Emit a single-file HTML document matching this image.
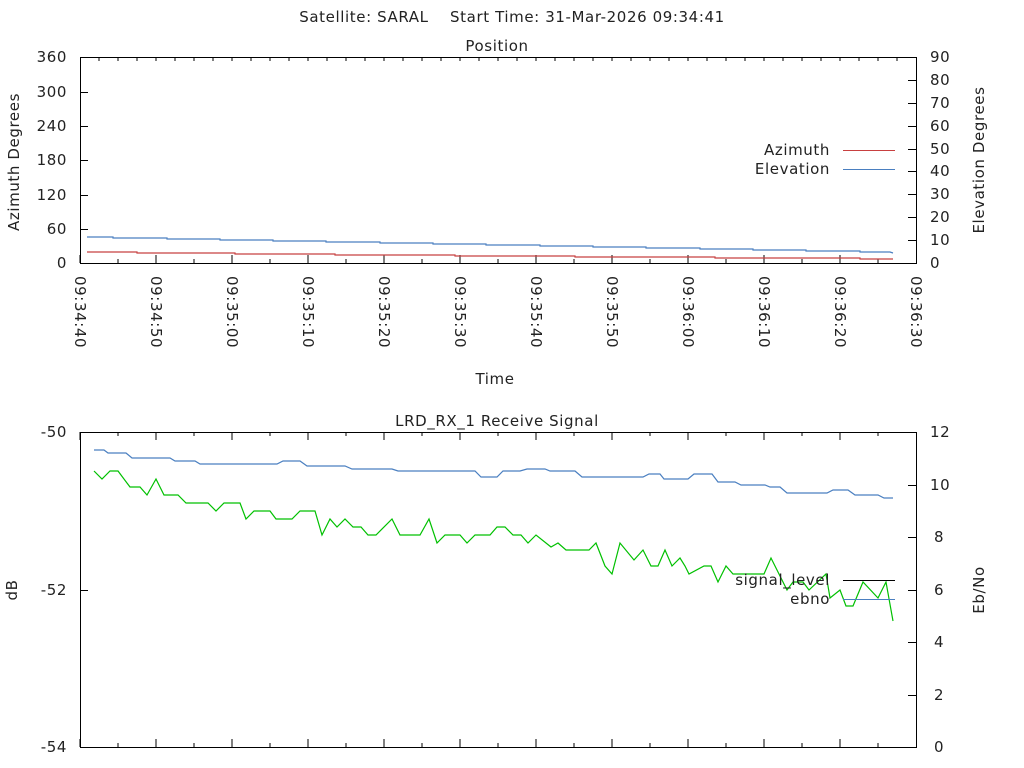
<!DOCTYPE html>
<html><head><meta charset="utf-8"><style>body{margin:0;background:#fff}svg{display:block}text{font-family:"DejaVu Sans","Liberation Sans",sans-serif;font-size:15px;letter-spacing:0.6px;fill:#222}</style></head>
<body>
<svg width="1024" height="768" xmlns="http://www.w3.org/2000/svg">
<text x="512" y="22" text-anchor="middle" xml:space="preserve">Satellite: SARAL    Start Time: 31-Mar-2026 09:34:41</text>
<text x="497" y="51" text-anchor="middle">Position</text>
<rect x="80.5" y="57.5" width="836" height="206" fill="none" stroke="#000"/>
<g stroke="#000">
<path d="M80 263v-8M156 263v-8M232 263v-8M308 263v-8M384 263v-8M460 263v-8M536 263v-8M612 263v-8M688 263v-8M764 263v-8M840 263v-8"/>
<path d="M118 263v-4M194 263v-4M270 263v-4M346 263v-4M422 263v-4M498 263v-4M574 263v-4M650 263v-4M726 263v-4M802 263v-4M878 263v-4"/>
<path d="M99 57v4M118 57v4M137 57v4M156 57v4M175 57v4M194 57v4M213 57v4M232 57v4M251 57v4M270 57v4M289 57v4M308 57v4M327 57v4M346 57v4M365 57v4M384 57v4M403 57v4M422 57v4M441 57v4M460 57v4M479 57v4M498 57v4M517 57v4M536 57v4M555 57v4M574 57v4M593 57v4M612 57v4M631 57v4M650 57v4M669 57v4M688 57v4M707 57v4M726 57v4M745 57v4M764 57v4M783 57v4M802 57v4M821 57v4M840 57v4M859 57v4M878 57v4M897 57v4"/>
<path d="M80 229.5h8M80 195.5h8M80 160.5h8M80 126.5h8M80 92.5h8M916 240.5h-8M916 217.5h-8M916 194.5h-8M916 171.5h-8M916 149.5h-8M916 126.5h-8M916 103.5h-8M916 80.5h-8"/>
</g>
<g text-anchor="end">
<text x="67" y="268">0</text><text x="67" y="234">60</text><text x="67" y="200">120</text><text x="67" y="165">180</text><text x="67" y="131">240</text><text x="67" y="97">300</text><text x="67" y="62">360</text>
</g>
<g>
<text x="930" y="268">0</text><text x="930" y="245">10</text><text x="930" y="222">20</text><text x="930" y="199">30</text><text x="930" y="176">40</text><text x="930" y="154">50</text><text x="930" y="131">60</text><text x="930" y="108">70</text><text x="930" y="85">80</text><text x="930" y="62">90</text>
</g>
<text transform="translate(19,162) rotate(-90)" text-anchor="middle">Azimuth Degrees</text>
<text transform="translate(984,160) rotate(-90)" text-anchor="middle">Elevation Degrees</text>
<g>
<text transform="translate(75,276) rotate(90)">09:34:40</text>
<text transform="translate(151,276) rotate(90)">09:34:50</text>
<text transform="translate(227,276) rotate(90)">09:35:00</text>
<text transform="translate(303,276) rotate(90)">09:35:10</text>
<text transform="translate(379,276) rotate(90)">09:35:20</text>
<text transform="translate(455,276) rotate(90)">09:35:30</text>
<text transform="translate(531,276) rotate(90)">09:35:40</text>
<text transform="translate(607,276) rotate(90)">09:35:50</text>
<text transform="translate(683,276) rotate(90)">09:36:00</text>
<text transform="translate(759,276) rotate(90)">09:36:10</text>
<text transform="translate(835,276) rotate(90)">09:36:20</text>
<text transform="translate(911,276) rotate(90)">09:36:30</text>
</g>
<text x="495" y="384" text-anchor="middle">Time</text>
<polyline fill="none" stroke="#4a7fc0" stroke-width="1.2" points="87,237 113,237 113,238 167,238 167,239 220,239 220,240 273,240 273,241 326,241 326,242 380,242 380,243 433,243 433,244 486,244 486,245 540,245 540,246 593,246 593,247 646,247 646,248 700,248 700,249 753,249 753,250 806,250 806,251 860,251 860,252 890,252 893,253"/>
<polyline fill="none" stroke="#c84040" stroke-width="1.2" points="87,252 137,252 137,253 235,253 235,254 335,254 335,255 455,255 455,256 575,256 575,257 715,257 715,258 860,258 860,259 893,259"/>
<text x="830" y="155" text-anchor="end">Azimuth</text>
<path d="M843 150.5h52" stroke="#c84040"/>
<text x="830" y="174" text-anchor="end">Elevation</text>
<path d="M843 169.5h52" stroke="#4a7fc0"/>

<text x="497" y="426" text-anchor="middle">LRD_RX_1 Receive Signal</text>
<rect x="80.5" y="432.5" width="836" height="315" fill="none" stroke="#000"/>
<g stroke="#000">
<path d="M80 432v8M156 432v8M232 432v8M308 432v8M384 432v8M460 432v8M536 432v8M612 432v8M688 432v8M764 432v8M840 432v8M80 747v-8M156 747v-8M232 747v-8M308 747v-8M384 747v-8M460 747v-8M536 747v-8M612 747v-8M688 747v-8M764 747v-8M840 747v-8"/>
<path d="M118 432v4M194 432v4M270 432v4M346 432v4M422 432v4M498 432v4M574 432v4M650 432v4M726 432v4M802 432v4M878 432v4M118 747v-4M194 747v-4M270 747v-4M346 747v-4M422 747v-4M498 747v-4M574 747v-4M650 747v-4M726 747v-4M802 747v-4M878 747v-4"/>
<path d="M80 590.5h8M916 485.5h-8M916 537.5h-8M916 590.5h-8M916 642.5h-8M916 695.5h-8"/>
</g>
<g text-anchor="end"><text x="67" y="437">-50</text><text x="67" y="595">-52</text><text x="67" y="752">-54</text></g>
<g><text x="930" y="437">12</text><text x="930" y="490">10</text><text x="934" y="542">8</text><text x="934" y="595">6</text><text x="934" y="647">4</text><text x="934" y="700">2</text><text x="934" y="752">0</text></g>
<text transform="translate(17,590) rotate(-90)" text-anchor="middle">dB</text>
<text transform="translate(984,590) rotate(-90)" text-anchor="middle">Eb/No</text>
<polyline fill="none" stroke="#4a7fc0" stroke-width="1.2" points="94,450 104,450 108,453 126,453 132,458 170,458 175,461 195,461 200,464 277,464 283,461 300,461 307,466 345,466 352,469 392,469 398,471 475,471 481,477 497,477 503,471 520,471 527,469 545,469 550,471 575,471 582,477 643,477 649,474 660,474 664,479 688,479 694,474 712,474 718,482 735,482 741,485 765,485 770,487 780,487 787,493 827,493 833,490 848,490 855,495 878,495 884,498 893,498"/>
<polyline fill="none" stroke="#00c000" stroke-width="1.2" points="94,471 102,479 110,471 118,471 130,487 140,487 147,495 156,479 164,495 178,495 186,503 208,503 216,511 224,503 240,503 246,519 254,511 270,511 276,519 292,519 300,511 315,511 322,535 330,519 337,527 345,519 353,527 361,527 368,535 376,535 392,519 400,535 420,535 429,519 437,543 445,535 460,535 467,543 475,535 490,535 497,527 505,527 513,535 521,535 528,543 536,535 551,547 558,543 566,550 589,550 596,543 605,566 612,574 620,543 634,560 643,550 651,566 658,566 665,550 672,566 680,558 685,566 689,574 704,566 711,566 718,582 726,566 733,574 764,574 771,558 779,574 787,590 793,582 803,582 809,590 826,574 830,598 840,590 846,606 853,606 863,582 878,598 886,582 893,621"/>
<text x="830" y="585" text-anchor="end">signal_level</text>
<path d="M843 580.5h52" stroke="#000"/>
<text x="830" y="604" text-anchor="end">ebno</text>
<path d="M843 599.5h52" stroke="#4a7fc0"/>
</svg>
</body></html>
